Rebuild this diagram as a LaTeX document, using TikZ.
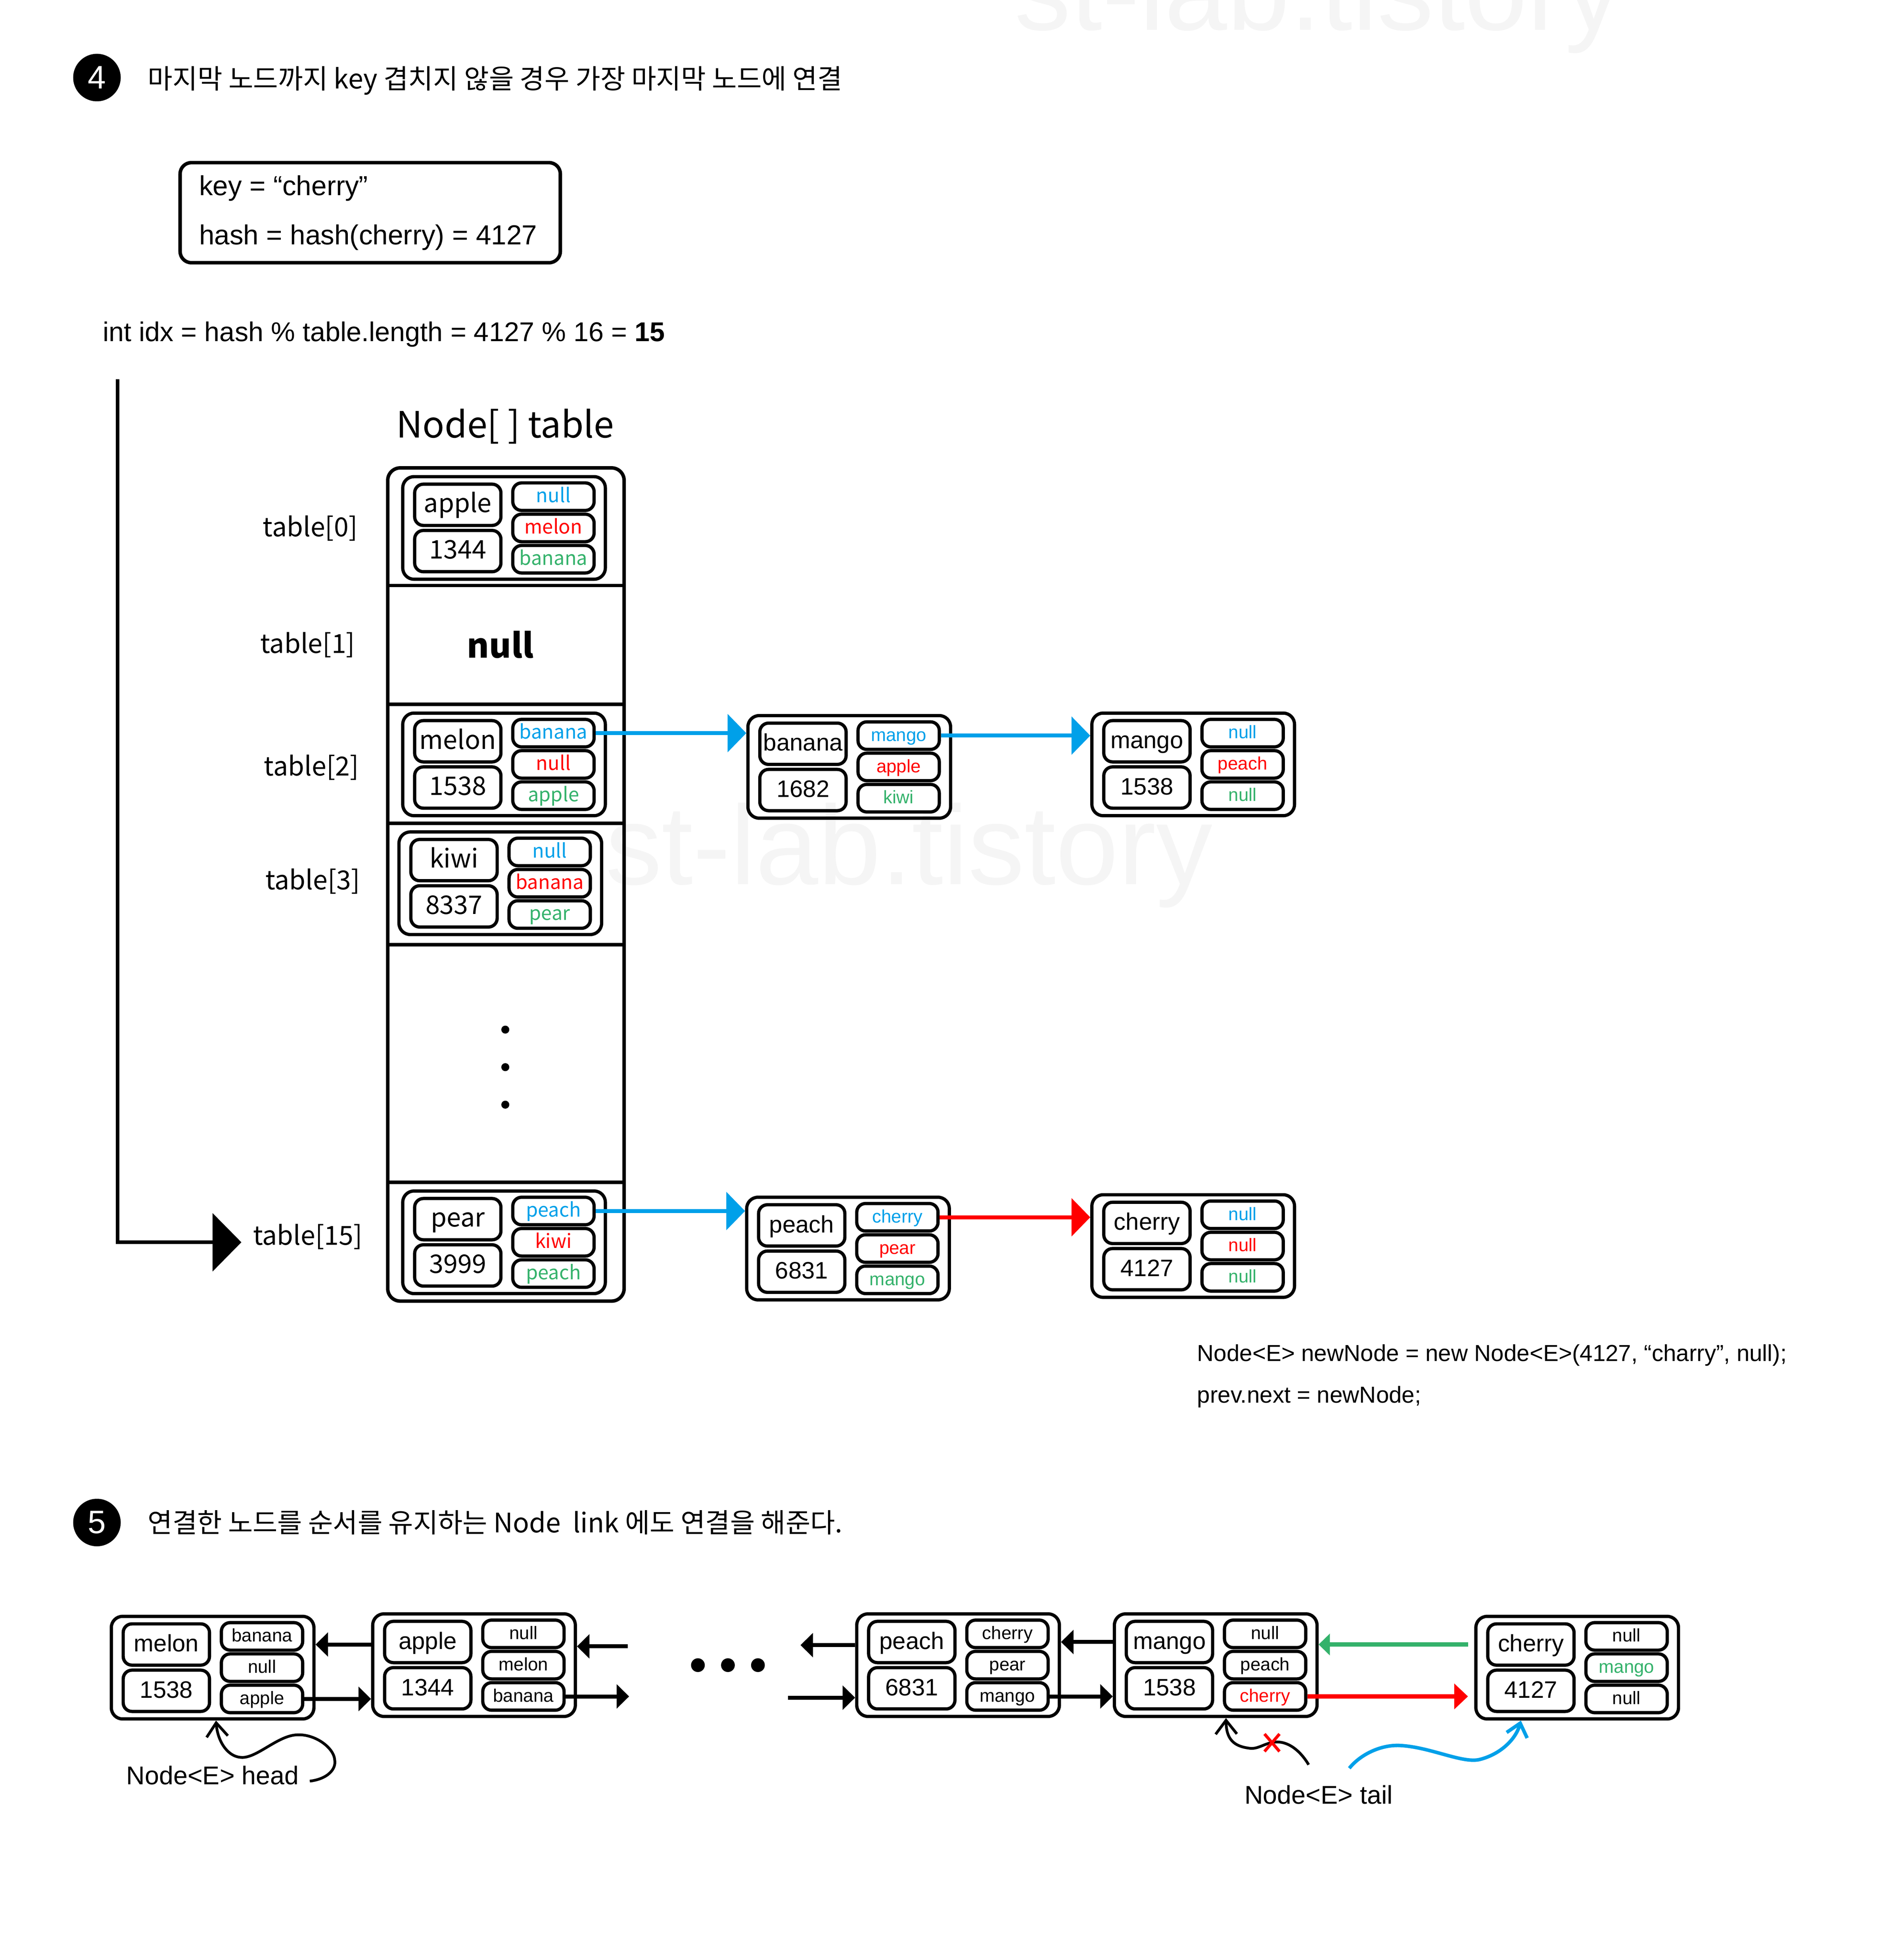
\documentclass[tikz,border=0pt]{standalone}
\usepackage{fontspec}
\setmainfont{Liberation Sans}
\newfontfamily\kr{Noto Sans CJK KR}
\usetikzlibrary{arrows.meta}
\definecolor{cblue}{RGB}{0,160,233}
\definecolor{cred}{RGB}{255,0,0}
\definecolor{cgreen}{RGB}{52,178,107}
\definecolor{wmark}{RGB}{245,245,245}
\tikzset{
  frm/.style={draw, line width=2.6pt, rounded corners=7pt, inner sep=0pt},
  obox/.style={frm, rounded corners=9pt, minimum width=162pt, minimum height=82pt},
  kbox/.style={frm, minimum width=69pt, minimum height=33pt},
  sbox/.style={frm, minimum width=65pt, minimum height=22pt},
  tkey/.style={font=\kr\fontsize{20.5}{24}\selectfont, text height=16.3pt, text depth=4pt},
  tsm/.style={font=\kr\fontsize{15.5}{18}\selectfont, text height=12.2pt, text depth=3pt},
  hkey/.style={font=\fontsize{19}{23}\selectfont, text height=15.4pt, text depth=4pt},
  hsm/.style={font=\fontsize{14.5}{17}\selectfont, text height=11.7pt, text depth=3pt},
  txt/.style={inner sep=0pt, anchor=base west},
  lbl/.style={inner sep=0pt, anchor=base, font=\kr\fontsize{21}{25}\selectfont},
  barr/.style={draw=cblue, line width=3.2pt, -{Triangle[length=15pt,width=30pt]}},
  rarr/.style={draw=cred, line width=3.2pt, -{Triangle[length=15pt,width=30pt]}},
  karr/.style={line width=3pt, -{Triangle[length=23pt,width=46pt]}},
  larr/.style={line width=3.2pt, -{Triangle[length=10pt,width=19pt]}},
  garr/.style={draw=cgreen, line width=3.4pt, -{Triangle[length=9pt,width=17pt]}},
  rarrb/.style={draw=cred, line width=3.4pt, -{Triangle[length=11pt,width=20pt]}},
  curv/.style={line width=2.2pt, -{Straight Barb[length=11pt,width=17pt]}},
  bcurv/.style={draw=cblue, line width=2.8pt, -{Straight Barb[length=10pt,width=17pt]}},
  hcirc/.style={circle, fill=black, minimum size=38pt, inner sep=0pt, text=white, font=\fontsize{26}{30}\selectfont},
}
\newcommand\hnode[9]{%
  \node[obox] (#2) at (#3+81,#4+41) {};
  \node[kbox,#1key] (#2-k) at (#3+44,#4+22.5) {#5};
  \node[kbox,#1key] (#2-h) at (#3+44,#4+59.5) {#6};
  \node[sbox,#1sm] (#2-a) at (#3+120.5,#4+16) {#7};
  \node[sbox,#1sm] (#2-b) at (#3+120.5,#4+41) {#8};
  \node[sbox,#1sm] (#2-c) at (#3+120.5,#4+66) {#9};
}
\newcommand\tb[1]{\textcolor{cblue}{#1}}
\newcommand\tr[1]{\textcolor{cred}{#1}}
\newcommand\tg[1]{\textcolor{cgreen}{#1}}
\begin{document}
\begin{tikzpicture}[x=1pt,y=-1pt]
\useasboundingbox (0,0) rectangle (1522,1566.7);
\fill[white] (0,0) rectangle (1522,1566.7);
% watermarks
\node[txt, text=wmark, font=\fontsize{90}{100}\selectfont] (wm1) at (811,24) {st-lab.tistory};
\node[txt, text=wmark, font=\fontsize{90}{100}\selectfont] (wm2) at (484,707) {st-lab.tistory};

% header 4
\node[hcirc] (c4) at (77.5,62) {4};
\node[txt, font=\kr\fontsize{21.6}{26}\selectfont] (h4) at (118,71) {마지막 노드까지 key 겹치지 않을 경우 가장 마지막 노드에 연결};

% key box
\node[draw, line width=2.8pt, rounded corners=9pt, minimum width=304pt, minimum height=80pt] (keybox) at (296,170) {};
\node[txt, font=\fontsize{22}{26}\selectfont] (k1) at (159,156) {key = “cherry”};
\node[txt, font=\fontsize{22}{26}\selectfont] (k2) at (159,195.5) {hash = hash(cherry) = 4127};
\node[txt, font=\fontsize{21.7}{26}\selectfont] (idx) at (82,273) {int idx = hash \% table.length = 4127 \% 16 = \textbf{15}};

% table
\node[inner sep=0pt, anchor=base, font=\kr\fontsize{29}{34}\selectfont] (ttl) at (404,350) {Node[ ] table};
\draw[line width=2.8pt, rounded corners=10pt] (310,374) rectangle (499,1040);
\foreach \yy in {468,563,658,755,945} \draw[line width=2.8pt] (310,\yy) -- (499,\yy);
\node[lbl] (l0) at (248,429) {table[0]};
\node[lbl] (l1) at (246,522) {table[1]};
\node[lbl] (l2) at (249,620) {table[2]};
\node[lbl] (l3) at (250,711) {table[3]};
\node[lbl] (l15) at (246,995) {table[15]};
\node[inner sep=0pt, anchor=base, font=\kr\bfseries\fontsize{27}{32}\selectfont] (n1) at (400,526) {null};
\fill (404,823) circle (3.2pt);
\fill (404,853) circle (3.2pt);
\fill (404,883) circle (3.2pt);

\hnode{t}{r0}{322}{381}{apple}{1344}{\tb{null}}{\tr{melon}}{\tg{banana}}
\hnode{t}{r2}{322}{570}{melon}{1538}{\tb{banana}}{\tr{null}}{\tg{apple}}
\hnode{t}{r3}{319}{665}{kiwi}{8337}{\tb{null}}{\tr{banana}}{\tg{pear}}
\hnode{t}{r15}{322}{952}{pear}{3999}{\tb{peach}}{\tr{kiwi}}{\tg{peach}}

\hnode{h}{bn}{598}{572}{banana}{1682}{\tb{mango}}{\tr{apple}}{\tg{kiwi}}
\hnode{h}{mg}{873}{570}{mango}{1538}{\tb{null}}{\tr{peach}}{\tg{null}}
\hnode{h}{pc}{597}{957}{peach}{6831}{\tb{cherry}}{\tr{pear}}{\tg{mango}}
\hnode{h}{ch}{873}{955}{cherry}{4127}{\tb{null}}{\tr{null}}{\tg{null}}

\draw[barr] (r2-a.east) -- (r2-a.east -| bn.west);
\draw[barr] (bn-a.east) -- (bn-a.east -| mg.west);
\draw[barr] (r15-a.east) -- (r15-a.east -| pc.west);
\draw[rarr] (pc-a.east) -- (pc-a.east -| ch.west);

% index arrow
\coordinate (vtop) at (94,303);
\coordinate (vtip) at (193,993);
\draw[karr] (vtop) |- (vtip);

\node[txt, font=\fontsize{18.5}{22}\selectfont] (nn1) at (957,1088) {Node<E> newNode = new Node<E>(4127, “charry”, null);};
\node[txt, font=\fontsize{18.5}{22}\selectfont] (nn2) at (957,1121.4) {prev.next = newNode;};

% header 5
\node[hcirc] (c5) at (77.5,1217) {5};
\node[txt, font=\kr\fontsize{21.5}{26}\selectfont] (h5) at (118,1225) {연결한 노드를 순서를 유지하는 Node\ \ link 에도 연결을 해준다.};

% linked list
\hnode{h}{A}{89}{1292}{melon}{1538}{banana}{null}{apple}
\hnode{h}{B}{298}{1290}{apple}{1344}{null}{melon}{banana}
\hnode{h}{C}{685}{1290}{peach}{6831}{cherry}{pear}{mango}
\hnode{h}{D}{891}{1290}{mango}{1538}{null}{peach}{\tr{cherry}}
\hnode{h}{E}{1180}{1292}{cherry}{4127}{null}{\tg{mango}}{null}

\coordinate (bin) at (502,1316);
\coordinate (bout) at (503,1356);
\coordinate (cl) at (640,1315);
\coordinate (cin) at (630,1357);
\draw[larr] (B.west |- A-k) -- (A.east |- A-k);
\draw[larr] (A-c.east) -- (A-c.east -| B.west);
\draw[larr] (bin) -- (bin -| B.east);
\draw[larr] (B-c.east) -- (B-c.east -| bout);
\draw[larr] (C.west |- cl) -- (cl);
\draw[larr] (cin) -- (cin -| C.west);
\draw[larr] (D.west |- C-k) -- (C.east |- C-k);
\draw[larr] (C-c.east) -- (C-c.east -| D.west);
\draw[garr, shorten <=5pt] (E.west |- E-k) -- (D.east |- E-k);
\draw[rarrb, shorten >=5pt] (D-c.east) -- (D-c.east -| E.west);

\fill (558,1331) circle (5.5pt);
\fill (582,1331) circle (5.5pt);
\fill (606,1331) circle (5.5pt);

% head pointer
\node[inner sep=0pt, anchor=base, font=\fontsize{20.5}{24}\selectfont] (hd) at (170,1426.3) {Node<E> head};
\coordinate (hs) at (247.7,1423.7);
\draw[curv] (hs) .. controls (262,1422) and (269,1414) .. (267.6,1406.8)
  .. controls (267,1397) and (252,1386) .. (237.8,1386.7)
  .. controls (222,1387) and (205,1406) .. (192.5,1404.7)
  .. controls (182,1404) and (174,1392) .. ([xshift=2.7pt]A.south);

% tail pointer
\node[inner sep=0pt, anchor=base, font=\fontsize{20.5}{24}\selectfont] (tl) at (1054.3,1442) {Node<E> tail};
\coordinate (ts) at (1046.3,1410.6);
\draw[curv] (ts) .. controls (1040,1400) and (1030,1391) .. (1018.3,1392.6)
  .. controls (1010,1394) and (1006,1398) .. (999.7,1397.5)
  .. controls (986,1396) and (980.5,1390) .. ([xshift=8.2pt]D.south);
\draw[cred, line width=2.4pt] (1011,1386) -- (1023,1400) (1011,1400) -- (1023,1386);
\coordinate (bs) at (1078.8,1413.4);
\draw[bcurv] (bs) .. controls (1088,1402) and (1105,1394) .. (1120.7,1395.3)
  .. controls (1145,1397) and (1170,1410) .. (1183.5,1406.3)
  .. controls (1200,1402) and (1212,1390) .. ([xshift=-45pt]E.south);
\end{tikzpicture}
\end{document}
